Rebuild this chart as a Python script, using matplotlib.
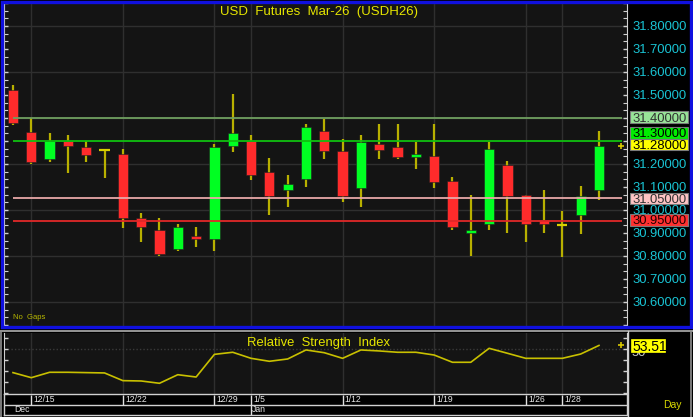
import matplotlib
matplotlib.use('Agg')
import matplotlib.pyplot as plt
from matplotlib.patches import Rectangle
from matplotlib.lines import Line2D
import matplotlib.transforms as mtrans
from matplotlib.ticker import MultipleLocator, FixedLocator, NullFormatter

plt.rcParams['font.family'] = ['Liberation Sans', 'DejaVu Sans']

# ---------------- data ----------------
opens = [31.52, 31.34, 31.22, 31.30, 31.275, 31.26, 31.245, 30.965, 30.915, 30.83, 30.885,
         30.875, 31.28, 31.30, 31.165, 31.085, 31.135, 31.345, 31.255, 31.095, 31.285, 31.275,
         31.23, 31.235, 31.125, 30.90, 30.94, 31.195, 31.065, 30.955, 30.935, 30.98, 31.085]
highs = [31.545, 31.40, 31.335, 31.325, 31.30, 31.265, 31.265, 30.985, 30.965, 30.94, 30.925,
         31.285, 31.505, 31.325, 31.225, 31.15, 31.375, 31.395, 31.31, 31.325, 31.375, 31.375,
         31.295, 31.375, 31.145, 31.065, 31.295, 31.215, 31.065, 31.085, 30.995, 31.105, 31.345]
lows = [31.37, 31.20, 31.21, 31.16, 31.21, 31.14, 30.92, 30.86, 30.80, 30.82, 30.84,
        30.82, 31.25, 31.13, 30.98, 31.015, 31.10, 31.22, 31.035, 31.015, 31.22, 31.22,
        31.18, 31.095, 30.915, 30.80, 30.915, 30.90, 30.86, 30.90, 30.795, 30.895, 31.045]
closes = [31.38, 31.21, 31.30, 31.28, 31.24, 31.26, 30.965, 30.925, 30.81, 30.925, 30.875,
          31.275, 31.335, 31.15, 31.06, 31.115, 31.36, 31.255, 31.06, 31.295, 31.26, 31.23,
          31.245, 31.12, 30.925, 30.915, 31.265, 31.06, 30.94, 30.94, 30.935, 31.06, 31.28]
rsi = [28.8, 24.2, 29.1, 29.1, 28.8, 28.5, 21.5, 21.2, 19.1, 26.9, 24.8,
       45.4, 47.3, 41.8, 39.1, 41.2, 49.4, 46.9, 41.8, 49.4, 48.5, 47.3,
       47.3, 44.8, 38.2, 38.2, 50.9, 46.4, 41.8, 41.8, 41.8, 45.7, 53.51]

tick_idx = [1, 6, 11, 13, 18, 23, 28, 30]
tick_labels = ['12/15', '12/22', '12/29', '1/5', '1/12', '1/19', '1/26', '1/28']
month_idx = [0, 13]
month_labels = ['Dec', 'Jan']

axis_levels = [31.80, 31.70, 31.60, 31.50, 31.20, 31.10, 31.00, 30.90, 30.80, 30.70, 30.60]
grid_levels = [31.80, 31.60, 31.40, 31.20, 31.00, 30.80, 30.60]

hlines = [31.40, 31.30, 31.05, 30.95]
hline_colors = ['#6f9f5f', '#10c010', '#e8a8a8', '#e02828']
hbox_colors = ['#98e498', '#00ee00', '#ffc4c4', '#ff3030']
hbox_text = ['#303030', '#000000', '#303030', '#200000']
hbox_shift_px = [0.8, 8.2, 0.0, 1.7]   # labels pushed up to avoid overlap

last_price = 31.28
last_shift_px = 0.9
last_rsi = 53.51

title = 'USD  Futures  Mar-26  (USDH26)'
rsi_title = 'Relative  Strength  Index'

# ---------------- layout helpers ----------------
W, H = 693, 417
fig = plt.figure(figsize=(W / 100, H / 100), dpi=100, facecolor='black')


def fbox(x0, y0, x1, y1):
    return [x0 / W, 1 - y1 / H, (x1 - x0) / W, (y1 - y0) / H]


def fline(x0, y0, x1, y1, color, lw):
    fig.add_artist(Line2D([x0 / W, x1 / W], [1 - y0 / H, 1 - y1 / H],
                          transform=fig.transFigure, color=color, lw=lw))


XLIM = (-0.49, 33.53)
n = len(closes)
xs = list(range(n))

# ---------------- main price axes ----------------
ax = fig.add_axes(fbox(4, 3, 627, 327))
ax.set_facecolor('#141414')
ax.set_xlim(*XLIM)
YLIM = (30.4913, 31.90)
ax.set_ylim(*YLIM)
px = (YLIM[1] - YLIM[0]) / 324.0   # price per pixel

for g in grid_levels:
    ax.axhline(g, color='#2f2f2f', lw=1.0, zorder=0)
for t in tick_idx:
    ax.axvline(t, color='#2f2f2f', lw=1.0, zorder=0)

red = '#ff2b2b'
green = '#00ff22'
wick = '#b8b000'
bw = 0.56
for i in xs:
    o, h, l, c = opens[i], highs[i], lows[i], closes[i]
    ax.vlines(i, l, h, color=wick, lw=1.6, zorder=2)
    if abs(c - o) < 1e-9:
        ax.hlines(o, i - bw / 2, i + bw / 2, color='#d8d000', lw=1.6, zorder=3)
    else:
        col = green if c > o else red
        ax.bar(i, abs(c - o), bottom=min(o, c), width=bw, color=col,
               edgecolor='#202020', lw=0.4, zorder=3)

for lv, lc in zip(hlines, hline_colors):
    ax.hlines(lv, 0, XLIM[1] - 0.25, color=lc, lw=1.3, zorder=4)

for s in ['top', 'bottom']:
    ax.spines[s].set_visible(False)
ax.spines['left'].set_color('#d0d0d0')
ax.spines['right'].set_color('#d0d0d0')
ax.tick_params(axis='x', which='both', bottom=False, labelbottom=False)
ax.yaxis.set_major_locator(MultipleLocator(0.1))
ax.yaxis.set_minor_locator(MultipleLocator(1 / 30))
ax.yaxis.set_major_formatter(NullFormatter())
ax.tick_params(axis='y', which='both', left=True, right=True, direction='in',
               colors='#d0d0d0', labelleft=False, labelright=False)
ax.tick_params(axis='y', which='major', length=3, width=1)
ax.tick_params(axis='y', which='minor', length=3, width=0.8)

bt = mtrans.blended_transform_factory(ax.transAxes, ax.transData)
lx = (632 - 4) / 623
bx0 = (630 - 4) / 623
bwid = 58 / 623
for lv in axis_levels:
    ax.text(lx, lv, f'{lv:.5f}', transform=bt, color='#19c4d4', fontsize=9.4,
            va='center_baseline', ha='left', clip_on=False, zorder=5)


def price_box(value, shift, fc, tc, z):
    yc = value + shift * px
    hh = 11.5 * px
    ax.add_patch(Rectangle((bx0, yc - hh / 2), bwid, hh, transform=bt, fc=fc,
                           ec='#7a7a7a', lw=0.8, clip_on=False, zorder=z))
    ax.text(lx, yc, f'{value:.5f}', transform=bt, color=tc, fontsize=9.4,
            va='center_baseline', ha='left', clip_on=False, zorder=z + 0.5)


for k, (lv, bc, tc, sh) in enumerate(zip(hlines, hbox_colors, hbox_text, hbox_shift_px)):
    price_box(lv, sh, bc, tc, 6 + k * 0.01)
price_box(last_price, last_shift_px, '#ffff00', '#000000', 7)

ax.plot([(621 - 4) / 623], [last_price], transform=bt, marker='+', ms=4.5,
        mew=1.2, color='#d8c800', clip_on=False, zorder=7)

ax.text(0.5055, 0.973, title, transform=ax.transAxes, color='#e6e600', fontsize=9.5,
        ha='center', va='center')
ax.text(0.015, 0.018, 'No  Gaps', transform=ax.transAxes, color='#b8b800', fontsize=5.5,
        ha='left', va='bottom')

# ---------------- RSI axes ----------------
ar = fig.add_axes(fbox(4, 333, 627, 394))
ar.set_facecolor('#141414')
ar.set_xlim(*XLIM)
RLIM = (9.36, 64.82)
ar.set_ylim(*RLIM)
rpx = (RLIM[1] - RLIM[0]) / 61.0
for t in tick_idx:
    ar.axvline(t, color='#2f2f2f', lw=1.0, zorder=0)
ar.axhline(50, color='#3a3a3a', lw=1.0, ls=(0, (1, 1.5)), zorder=0)
ar.plot(xs, rsi, color='#c8c000', lw=1.2, zorder=3)
for s in ['top', 'bottom']:
    ar.spines[s].set_visible(False)
ar.spines['left'].set_color('#d0d0d0')
ar.spines['right'].set_color('#d0d0d0')
ar.tick_params(axis='x', which='both', bottom=False, labelbottom=False)
ar.yaxis.set_major_locator(FixedLocator([10, 20, 30, 40, 50, 60]))
ar.yaxis.set_major_formatter(NullFormatter())
ar.tick_params(axis='y', left=True, right=True, direction='in', colors='#d0d0d0',
               length=3, width=1, labelleft=False, labelright=False)
ar.text(0.5055, 0.835, rsi_title, transform=ar.transAxes, color='#e6e600', fontsize=9.4,
        ha='center', va='center')
brt = mtrans.blended_transform_factory(ar.transAxes, ar.transData)
ar.text(lx, 50 - 2.5 * rpx, '50', transform=brt, color='#c8c8c8', fontsize=9.4,
        va='center_baseline', ha='left', clip_on=False, zorder=4)
rb_h = 13 * rpx
ar.add_patch(Rectangle(((631 - 4) / 623, last_rsi - rb_h / 2), 34 / 623, rb_h, transform=brt,
                       fc='#ffff00', ec='#ffff00', lw=0.5, clip_on=False, zorder=6))
ar.text((632 - 4) / 623, last_rsi, f'{last_rsi:.2f}', transform=brt, color='#000000',
        fontsize=10.0, va='center_baseline', ha='left', clip_on=False, zorder=6.5)
ar.plot([(621 - 4) / 623], [last_rsi], transform=brt, marker='+', ms=4.5,
        mew=1.2, color='#d8c800', clip_on=False, zorder=7)

# ---------------- date band ----------------
ad = fig.add_axes(fbox(4, 394, 627, 415))
ad.set_facecolor('black')
ad.set_xlim(*XLIM)
ad.set_ylim(21, 0)
ad.set_xticks([])
ad.set_yticks([])
for s in ad.spines.values():
    s.set_color('#d0d0d0')
    s.set_linewidth(1.0)
ad.axhline(11, color='#d0d0d0', lw=1.0)
ad.vlines(tick_idx, 1, 11, color='#e0e0e0', lw=1.0)
for t, lab in zip(tick_idx, tick_labels):
    ad.text(t + 0.12, 10.2, lab, color='#e8e8e8', fontsize=6.2, ha='left', va='bottom')
ad.vlines([month_idx[1]], 11, 21, color='#e0e0e0', lw=1.0)
for m, lab in zip(month_idx, month_labels):
    ad.text(m + 0.06, 19.8, lab, color='#e8e8e8', fontsize=6.2, ha='left', va='bottom')

fig.text(672 / W, 1 - 405.5 / H, 'Day', color='#d8d800', fontsize=7.5, ha='center', va='center')

# ---------------- frames ----------------
fig.add_artist(Rectangle((1.5 / W, 1 - 327 / H), 689 / W, 325.5 / H, transform=fig.transFigure,
                         fill=False, ec='#1010e0', lw=2.4))
fline(0, 331, 693, 331, '#b0b0b0', 1.2)
fline(628, 331, 628, 417, '#d0d0d0', 1.0)
fline(691, 331, 691, 417, '#909090', 1.2)
fline(0.6, 331, 0.6, 417, '#909090', 1.2)

fig.savefig('out.png', dpi=100, facecolor='black')
